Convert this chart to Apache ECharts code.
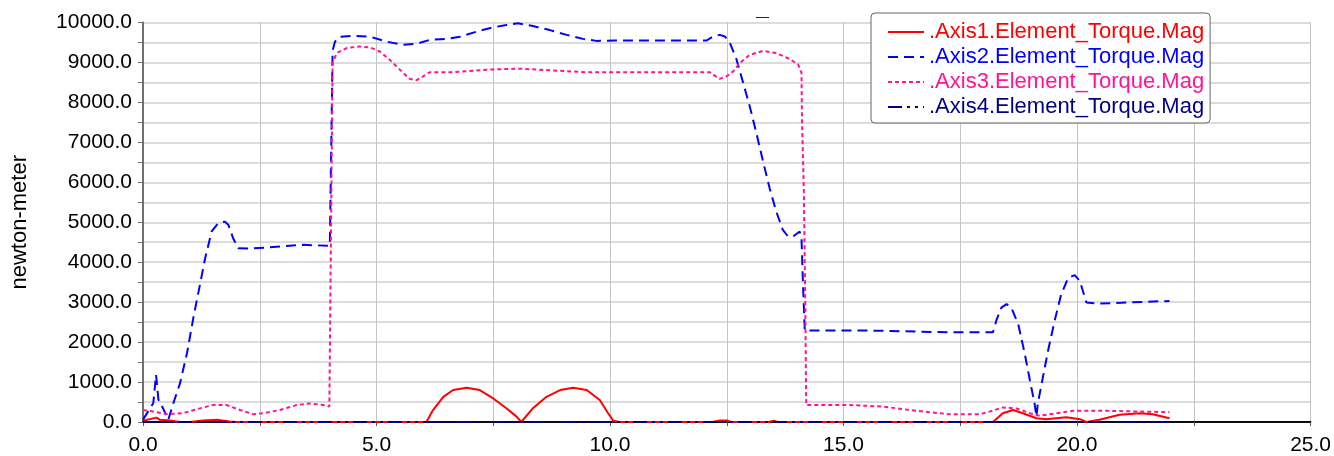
<!DOCTYPE html>
<html>
<head>
<meta charset="utf-8">
<script src="https://cdn.jsdelivr.net/npm/echarts/dist/echarts.min.js"></script>
<style>
html,body{margin:0;padding:0;background:#ffffff;}
#chart{width:1334px;height:456px;}
</style>
</head>
<body>
<div id="chart"></div>
<script>
// ---------- DATA ----------
const seriesNames = ['.Axis1.Element_Torque.Mag', '.Axis2.Element_Torque.Mag', '.Axis3.Element_Torque.Mag', '.Axis4.Element_Torque.Mag'];
const titleText = '—';
const yAxisName = 'newton-meter';

const axis1Time = [0, 0.29, 0.36, 0.58, 0.79, 1.0, 1.29, 1.58, 1.86, 2.0, 6.07, 6.21, 6.43, 6.64, 6.93, 7.21, 7.5, 7.78, 8.0, 8.1, 8.35, 8.64, 8.93, 9.21, 9.5, 9.78, 9.96, 10.07, 10.2, 12.2, 12.35, 12.5, 12.6, 13.4, 13.5, 13.6, 18.2, 18.41, 18.63, 18.84, 19.13, 19.34, 19.77, 20.06, 20.2, 20.48, 20.91, 21.34, 21.62, 21.98];
const axis1Value = [30, 110, 55, 40, 0, 0, 40, 55, 10, 0, 0, 300, 630, 800, 855, 800, 590, 345, 135, 0, 345, 630, 800, 855, 800, 550, 220, 30, 0, 0, 40, 40, 0, 0, 30, 0, 0, 220, 300, 220, 95, 70, 120, 70, 0, 55, 180, 220, 195, 95];

const axis2Time = [0, 0.22, 0.28, 0.33, 0.43, 0.54, 0.65, 0.79, 0.94, 1.08, 1.22, 1.33, 1.47, 1.61, 1.75, 1.83, 1.93, 2.04, 2.29, 2.68, 2.93, 3.43, 4.0, 4.03, 4.06, 4.11, 4.22, 4.5, 4.86, 5.22, 5.57, 5.86, 6.14, 6.5, 6.79, 7.14, 7.5, 7.78, 8.03, 8.35, 8.71, 9.07, 9.42, 9.71, 10.07, 12.07, 12.2, 12.35, 12.46, 12.57, 12.71, 12.85, 12.99, 13.13, 13.28, 13.42, 13.56, 13.7, 13.81, 13.92, 14.06, 14.1, 14.13, 14.17, 15.5, 16.3, 17.0, 18.2, 18.27, 18.38, 18.49, 18.59, 18.74, 18.88, 18.99, 19.09, 19.13, 19.16, 19.27, 19.38, 19.52, 19.66, 19.81, 19.95, 20.06, 20.2, 20.48, 21.05, 21.98];
const axis2Value = [60, 470, 1180, 560, 340, 55, 470, 960, 1710, 2620, 3440, 4100, 4770, 4975, 5016, 4930, 4600, 4350, 4340, 4370, 4395, 4435, 4410, 4420, 9300, 9520, 9645, 9670, 9645, 9520, 9440, 9465, 9565, 9590, 9645, 9770, 9880, 9935, 9980, 9910, 9810, 9690, 9590, 9540, 9550, 9550, 9650, 9690, 9650, 9480, 9070, 8490, 7910, 7250, 6505, 5840, 5265, 4810, 4645, 4645, 4770, 4600, 3500, 2290, 2290, 2270, 2250, 2245, 2535, 2865, 2950, 2865, 2450, 1710, 1045, 465, 135, 465, 1130, 1790, 2535, 3195, 3610, 3675, 3530, 2990, 2965, 2990, 3030];

const axis3Time = [0, 0.22, 0.51, 0.86, 1.15, 1.5, 1.79, 2.08, 2.36, 2.57, 2.93, 3.29, 3.57, 3.86, 3.99, 4.03, 4.06, 4.15, 4.36, 4.64, 4.86, 5.07, 5.28, 5.5, 5.71, 5.86, 6.0, 6.14, 6.64, 7.36, 8.07, 8.78, 9.5, 12.14, 12.28, 12.35, 12.5, 12.64, 12.78, 12.99, 13.28, 13.56, 13.85, 14.03, 14.1, 14.11, 14.15, 14.18, 14.2, 14.42, 15.13, 15.85, 16.56, 17.27, 17.92, 18.2, 18.41, 18.7, 18.99, 19.2, 19.56, 19.91, 20.63, 21.98];
const axis3Value = [300, 260, 200, 220, 320, 425, 425, 300, 195, 220, 300, 425, 465, 425, 385, 400, 8990, 9235, 9360, 9400, 9375, 9275, 9070, 8820, 8590, 8555, 8655, 8755, 8755, 8820, 8845, 8800, 8755, 8755, 8640, 8590, 8655, 8780, 8985, 9190, 9290, 9235, 9085, 8945, 8740, 7580, 5760, 3030, 425, 425, 425, 385, 280, 195, 195, 285, 365, 340, 220, 155, 220, 280, 280, 245];

const axis4Time = [0, 5, 10, 15, 20, 21.98];
const axis4Value = [0, 0, 0, 0, 0, 0];

const xTickLabels = ['0.0', '5.0', '10.0', '15.0', '20.0', '25.0'];
const yTickLabels = ['0.0', '1000.0', '2000.0', '3000.0', '4000.0', '5000.0', '6000.0', '7000.0', '8000.0', '9000.0', '10000.0'];

// ---------- STYLE ----------
const FONT = '"Liberation Sans", Arial, sans-serif';
const colors = ['#ff0000', '#0000ff', '#ff1493', '#000080'];
const dashes = ['solid', [10, 6], [4, 3], [14, 5, 3, 5, 3, 5]];
const widths = [2, 2, 2, 2];

function pairs(t, v) { return t.map((x, i) => [x, v[i]]); }
const seriesData = [pairs(axis1Time, axis1Value), pairs(axis2Time, axis2Value), pairs(axis3Time, axis3Value), pairs(axis4Time, axis4Value)];

const chart = echarts.init(document.getElementById('chart'), null, {renderer: 'canvas'});
chart.setOption({
  animation: false,
  backgroundColor: '#ffffff',
  title: {
    text: titleText, left: 751, top: 6,
    textStyle: {fontSize: 13, color: '#000', fontWeight: 'normal', fontFamily: FONT}
  },
  grid: {left: 143, right: 23, top: 22.5, bottom: 30.5, containLabel: false},
  legend: {
    orient: 'vertical', left: 871, top: 13,
    padding: [8, 6, 5, 16], itemGap: 3, itemWidth: 36, itemHeight: 14,
    backgroundColor: '#ffffff', borderColor: '#666666', borderWidth: 1, borderRadius: 4,
    itemStyle: {opacity: 0, borderWidth: 0},
    lineStyle: {opacity: 1},
    textStyle: {fontSize: 22, fontFamily: FONT},
    data: seriesNames.map((n, i) => ({name: n, textStyle: {color: colors[i]}}))
  },
  xAxis: [{
    type: 'value', min: 0, max: 25, interval: 2.5,
    axisLine: {show: true, onZero: false, lineStyle: {color: '#000', width: 1.5}},
    axisTick: {show: true, length: 4, lineStyle: {color: '#555'}},
    axisLabel: {
      fontSize: 21, color: '#000', margin: 13, fontFamily: FONT,
      formatter: v => { const k = Math.round(v / 5); return Math.abs(v - k * 5) < 1e-6 ? xTickLabels[k] : ''; }
    },
    splitLine: {show: true, lineStyle: {color: '#c4c4c4', width: 1}}
  }, {
    type: 'value', position: 'top', min: 0, max: 25,
    axisLine: {show: true, lineStyle: {color: '#000', width: 1.5}},
    axisTick: {show: false}, axisLabel: {show: false}, splitLine: {show: false}
  }],
  yAxis: {
    type: 'value', min: 0, max: 10000, interval: 500,
    name: yAxisName, nameLocation: 'middle', nameGap: 112, nameRotate: 90,
    nameTextStyle: {fontSize: 22, color: '#000', fontFamily: FONT},
    axisLine: {show: true, lineStyle: {color: '#707070', width: 2}},
    axisTick: {show: true, length: 5, inside: false, lineStyle: {color: '#707070'}},
    axisLabel: {
      fontSize: 21, color: '#000', margin: 11, fontFamily: FONT,
      formatter: v => { const k = Math.round(v / 1000); return Math.abs(v - k * 1000) < 1e-6 ? yTickLabels[k] : ''; }
    },
    splitLine: {show: true, lineStyle: {color: '#d0d0d0', width: 1.5}}
  },
  series: seriesNames.map((n, i) => ({
    name: n, type: 'line', data: seriesData[i],
    symbol: 'none', showSymbol: false,
    lineStyle: {color: colors[i], width: widths[i], type: dashes[i]},
    itemStyle: {color: colors[i]},
    z: 2 + i
  }))
});
</script>
</body>
</html>
